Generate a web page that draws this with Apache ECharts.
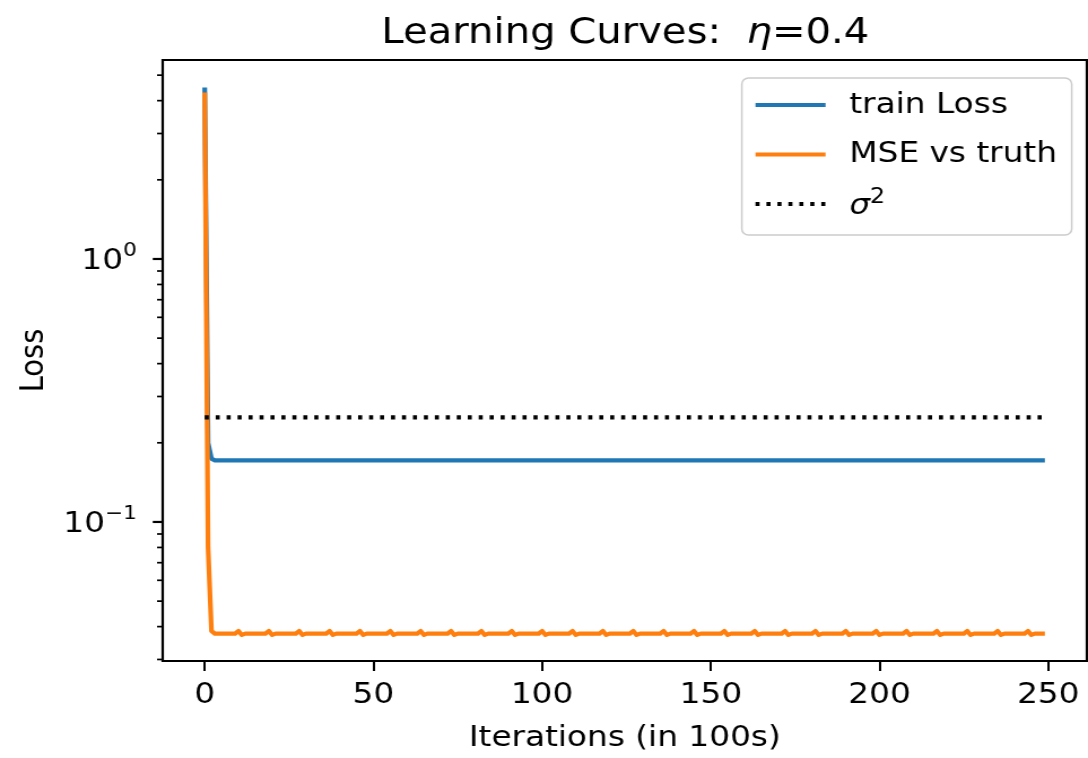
<!DOCTYPE html>
<html>
<head>
<meta charset="utf-8">
<script src="https://cdn.jsdelivr.net/npm/echarts@6/dist/echarts.min.js"></script>
<style>
  html, body { margin: 0; padding: 0; background: #fff; overflow: hidden; }
  /* figure is drawn at natural width and widened horizontally */
  #chart { width: 963px; height: 758px; transform: scaleX(1.1298); transform-origin: 0 0; }
</style>
</head>
<body>
<div id="chart"></div>
<script>
// Training loss, one entry per logged step (x = iterations / 100), steps 0..249
const trainLoss = [
  4.49, 0.200, 0.174, 0.1715, 0.1715, 0.1715, 0.1715, 0.1715, 0.1715, 0.1715,   // 0
  0.1715, 0.1715, 0.1715, 0.1715, 0.1715, 0.1715, 0.1715, 0.1715, 0.1715, 0.1715, // 10
  0.1715, 0.1715, 0.1715, 0.1715, 0.1715, 0.1715, 0.1715, 0.1715, 0.1715, 0.1715, // 20
  0.1715, 0.1715, 0.1715, 0.1715, 0.1715, 0.1715, 0.1715, 0.1715, 0.1715, 0.1715, // 30
  0.1715, 0.1715, 0.1715, 0.1715, 0.1715, 0.1715, 0.1715, 0.1715, 0.1715, 0.1715, // 40
  0.1715, 0.1715, 0.1715, 0.1715, 0.1715, 0.1715, 0.1715, 0.1715, 0.1715, 0.1715, // 50
  0.1715, 0.1715, 0.1715, 0.1715, 0.1715, 0.1715, 0.1715, 0.1715, 0.1715, 0.1715, // 60
  0.1715, 0.1715, 0.1715, 0.1715, 0.1715, 0.1715, 0.1715, 0.1715, 0.1715, 0.1715, // 70
  0.1715, 0.1715, 0.1715, 0.1715, 0.1715, 0.1715, 0.1715, 0.1715, 0.1715, 0.1715, // 80
  0.1715, 0.1715, 0.1715, 0.1715, 0.1715, 0.1715, 0.1715, 0.1715, 0.1715, 0.1715, // 90
  0.1715, 0.1715, 0.1715, 0.1715, 0.1715, 0.1715, 0.1715, 0.1715, 0.1715, 0.1715, // 100
  0.1715, 0.1715, 0.1715, 0.1715, 0.1715, 0.1715, 0.1715, 0.1715, 0.1715, 0.1715, // 110
  0.1715, 0.1715, 0.1715, 0.1715, 0.1715, 0.1715, 0.1715, 0.1715, 0.1715, 0.1715, // 120
  0.1715, 0.1715, 0.1715, 0.1715, 0.1715, 0.1715, 0.1715, 0.1715, 0.1715, 0.1715, // 130
  0.1715, 0.1715, 0.1715, 0.1715, 0.1715, 0.1715, 0.1715, 0.1715, 0.1715, 0.1715, // 140
  0.1715, 0.1715, 0.1715, 0.1715, 0.1715, 0.1715, 0.1715, 0.1715, 0.1715, 0.1715, // 150
  0.1715, 0.1715, 0.1715, 0.1715, 0.1715, 0.1715, 0.1715, 0.1715, 0.1715, 0.1715, // 160
  0.1715, 0.1715, 0.1715, 0.1715, 0.1715, 0.1715, 0.1715, 0.1715, 0.1715, 0.1715, // 170
  0.1715, 0.1715, 0.1715, 0.1715, 0.1715, 0.1715, 0.1715, 0.1715, 0.1715, 0.1715, // 180
  0.1715, 0.1715, 0.1715, 0.1715, 0.1715, 0.1715, 0.1715, 0.1715, 0.1715, 0.1715, // 190
  0.1715, 0.1715, 0.1715, 0.1715, 0.1715, 0.1715, 0.1715, 0.1715, 0.1715, 0.1715, // 200
  0.1715, 0.1715, 0.1715, 0.1715, 0.1715, 0.1715, 0.1715, 0.1715, 0.1715, 0.1715, // 210
  0.1715, 0.1715, 0.1715, 0.1715, 0.1715, 0.1715, 0.1715, 0.1715, 0.1715, 0.1715, // 220
  0.1715, 0.1715, 0.1715, 0.1715, 0.1715, 0.1715, 0.1715, 0.1715, 0.1715, 0.1715, // 230
  0.1715, 0.1715, 0.1715, 0.1715, 0.1715, 0.1715, 0.1715, 0.1715, 0.1715, 0.1715  // 240
];

// MSE of the fitted function against the true function (small bump every 9 steps), steps 0..249
const mseVsTruth = [
  4.30, 0.080, 0.0385, 0.0376, 0.0376, 0.0376, 0.0376, 0.0376, 0.0376, 0.0376,   // 0
  0.0385, 0.0372, 0.0376, 0.0376, 0.0376, 0.0376, 0.0376, 0.0376, 0.0376,         // 10
  0.0385, 0.0372, 0.0376, 0.0376, 0.0376, 0.0376, 0.0376, 0.0376, 0.0376,         // 19
  0.0385, 0.0372, 0.0376, 0.0376, 0.0376, 0.0376, 0.0376, 0.0376, 0.0376,         // 28
  0.0385, 0.0372, 0.0376, 0.0376, 0.0376, 0.0376, 0.0376, 0.0376, 0.0376,         // 37
  0.0385, 0.0372, 0.0376, 0.0376, 0.0376, 0.0376, 0.0376, 0.0376, 0.0376,         // 46
  0.0385, 0.0372, 0.0376, 0.0376, 0.0376, 0.0376, 0.0376, 0.0376, 0.0376,         // 55
  0.0385, 0.0372, 0.0376, 0.0376, 0.0376, 0.0376, 0.0376, 0.0376, 0.0376,         // 64
  0.0385, 0.0372, 0.0376, 0.0376, 0.0376, 0.0376, 0.0376, 0.0376, 0.0376,         // 73
  0.0385, 0.0372, 0.0376, 0.0376, 0.0376, 0.0376, 0.0376, 0.0376, 0.0376,         // 82
  0.0385, 0.0372, 0.0376, 0.0376, 0.0376, 0.0376, 0.0376, 0.0376, 0.0376,         // 91
  0.0385, 0.0372, 0.0376, 0.0376, 0.0376, 0.0376, 0.0376, 0.0376, 0.0376,         // 100
  0.0385, 0.0372, 0.0376, 0.0376, 0.0376, 0.0376, 0.0376, 0.0376, 0.0376,         // 109
  0.0385, 0.0372, 0.0376, 0.0376, 0.0376, 0.0376, 0.0376, 0.0376, 0.0376,         // 118
  0.0385, 0.0372, 0.0376, 0.0376, 0.0376, 0.0376, 0.0376, 0.0376, 0.0376,         // 127
  0.0385, 0.0372, 0.0376, 0.0376, 0.0376, 0.0376, 0.0376, 0.0376, 0.0376,         // 136
  0.0385, 0.0372, 0.0376, 0.0376, 0.0376, 0.0376, 0.0376, 0.0376, 0.0376,         // 145
  0.0385, 0.0372, 0.0376, 0.0376, 0.0376, 0.0376, 0.0376, 0.0376, 0.0376,         // 154
  0.0385, 0.0372, 0.0376, 0.0376, 0.0376, 0.0376, 0.0376, 0.0376, 0.0376,         // 163
  0.0385, 0.0372, 0.0376, 0.0376, 0.0376, 0.0376, 0.0376, 0.0376, 0.0376,         // 172
  0.0385, 0.0372, 0.0376, 0.0376, 0.0376, 0.0376, 0.0376, 0.0376, 0.0376,         // 181
  0.0385, 0.0372, 0.0376, 0.0376, 0.0376, 0.0376, 0.0376, 0.0376, 0.0376,         // 190
  0.0385, 0.0372, 0.0376, 0.0376, 0.0376, 0.0376, 0.0376, 0.0376, 0.0376,         // 199
  0.0385, 0.0372, 0.0376, 0.0376, 0.0376, 0.0376, 0.0376, 0.0376, 0.0376,         // 208
  0.0385, 0.0372, 0.0376, 0.0376, 0.0376, 0.0376, 0.0376, 0.0376, 0.0376,         // 217
  0.0385, 0.0372, 0.0376, 0.0376, 0.0376, 0.0376, 0.0376, 0.0376, 0.0376,         // 226
  0.0385, 0.0372, 0.0376, 0.0376, 0.0376, 0.0376, 0.0376, 0.0376, 0.0376,         // 235
  0.0385, 0.0372, 0.0376, 0.0376, 0.0376, 0.0376                                  // 244
];

// noise variance reference level
const sigmaSq = 0.25;

// axis ticks
const xTickValues = [0, 50, 100, 150, 200, 250];
const yMajorTicks = [0.1, 1];
const yMajorExponents = ['\u22121', '0'];
const yMinorTicks = [0.03, 0.04, 0.05, 0.06, 0.07, 0.08, 0.09,
                     0.2, 0.3, 0.4, 0.5, 0.6, 0.7, 0.8, 0.9,
                     2, 3, 4, 5];

const seriesNames = ['train Loss', 'MSE vs truth', '\u03c3\u00b2'];
const seriesColors = ['#1f77b4', '#ff7f0e', '#000000'];

const X_MIN = -12.45, X_MAX = 261.45;
const Y_MIN = 0.0296, Y_MAX = 5.71;
const FONT = "'DejaVu Sans'";

const trainData = trainLoss.map((v, i) => [i, v]);
const mseData = mseVsTruth.map((v, i) => [i, v]);
const sigmaData = [[0, sigmaSq], [trainLoss.length - 1, sigmaSq]];

const yTickData = yMajorTicks.map(v => [X_MIN, v, 1])
  .concat(yMinorTicks.map(v => [X_MIN, v, 0]));

function yLabel(value) {
  for (let i = 0; i < yMajorTicks.length; i++) {
    if (Math.abs(value - yMajorTicks[i]) < 1e-9 * yMajorTicks[i]) {
      return '{b|10}{s|' + yMajorExponents[i] + '}';
    }
  }
  return '';
}

const lineCommon = {
  type: 'line',
  showSymbol: false,
  symbol: 'none',
  progressive: 0,
  clip: true
};

const chart = echarts.init(document.getElementById('chart'), null, { renderer: 'canvas' });

chart.setOption({
  animation: false,
  backgroundColor: '#ffffff',
  title: {
    text: '{a|Learning Curves:  }{e|\u03b7}{a|=0.4}',
    left: 548.5,
    top: 11,
    textAlign: 'center',
    textStyle: {
      fontWeight: 'normal',
      rich: {
        a: { fontFamily: FONT, fontSize: 35.5, fontWeight: 'normal', color: '#000' },
        e: { fontFamily: FONT, fontSize: 35.5, fontWeight: 'normal', color: '#000', fontStyle: 'italic' }
      }
    }
  },
  grid: {
    left: 144, right: 1, top: 60, bottom: 96,
    show: true, borderColor: '#000', borderWidth: 2.2, backgroundColor: 'transparent'
  },
  legend: {
    orient: 'vertical',
    left: 656.6,
    top: 78,
    data: seriesNames,
    itemWidth: 62,
    itemHeight: 14,
    itemGap: 15.5,
    padding: [10, 13, 14, 10],
    backgroundColor: 'rgba(255,255,255,0.8)',
    borderColor: '#cccccc',
    borderWidth: 1.5,
    borderRadius: 6,
    itemStyle: { opacity: 0 },
    lineStyle: { width: 4.2 },
    formatter: name => name === seriesNames[2] ? '{i|\u03c3}{s|2}' : name,
    textStyle: {
      fontFamily: FONT, fontSize: 29, color: '#000', lineHeight: 34,
      padding: [0, 0, 0, 16],
      rich: {
        i: { fontFamily: FONT, fontSize: 29, fontStyle: 'italic', color: '#000', lineHeight: 34, verticalAlign: 'bottom' },
        s: { fontFamily: FONT, fontSize: 21, color: '#000', lineHeight: 21, verticalAlign: 'top' }
      }
    }
  },
  xAxis: {
    type: 'value',
    min: X_MIN,
    max: X_MAX,
    axisLine: { show: false },
    splitLine: { show: false },
    axisTick: { show: true, customValues: xTickValues, length: 10, lineStyle: { color: '#000', width: 2 } },
    axisLabel: { customValues: xTickValues, margin: 20, fontFamily: FONT, fontSize: 29, color: '#000' },
    name: 'Iterations (in 100s)',
    nameLocation: 'middle',
    nameGap: 63,
    nameTextStyle: { fontFamily: FONT, fontSize: 29, color: '#000' }
  },
  yAxis: {
    type: 'log',
    logBase: 10,
    min: Y_MIN,
    max: Y_MAX,
    axisLine: { show: false },
    axisTick: { show: false },
    minorTick: { show: false },
    splitLine: { show: false },
    axisLabel: {
      margin: 23,
      formatter: yLabel,
      rich: {
        b: { fontFamily: FONT, fontSize: 29, color: '#000', lineHeight: 34, verticalAlign: 'bottom' },
        s: { fontFamily: FONT, fontSize: 19, color: '#000', lineHeight: 19, verticalAlign: 'top' }
      }
    },
    name: 'Loss',
    nameLocation: 'middle',
    nameGap: 98,
    nameTextStyle: { fontFamily: FONT, fontSize: 29, color: '#000' }
  },
  series: [
    Object.assign({}, lineCommon, {
      name: seriesNames[0], data: trainData,
      lineStyle: { color: seriesColors[0], width: 4.2, join: 'round' },
      itemStyle: { color: seriesColors[0] }
    }),
    Object.assign({}, lineCommon, {
      name: seriesNames[1], data: mseData,
      lineStyle: { color: seriesColors[1], width: 4.2, join: 'round' },
      itemStyle: { color: seriesColors[1] }
    }),
    Object.assign({}, lineCommon, {
      name: seriesNames[2], data: sigmaData,
      lineStyle: { color: seriesColors[2], width: 4.2, type: [3.6, 6.1], cap: 'butt' },
      itemStyle: { color: seriesColors[2] }
    }),
    {
      // left-side major and minor ticks of the log axis
      type: 'custom',
      silent: true,
      clip: false,
      data: yTickData,
      renderItem: (params, api) => {
        const p = api.coord([api.value(0), api.value(1)]);
        const major = api.value(2) === 1;
        const len = major ? 8.8 : 5;
        return {
          type: 'line',
          shape: { x1: p[0] - len, y1: p[1], x2: p[0], y2: p[1] },
          style: { stroke: '#000', lineWidth: major ? 2.2 : 1.7 }
        };
      }
    }
  ]
});
</script>
</body>
</html>
